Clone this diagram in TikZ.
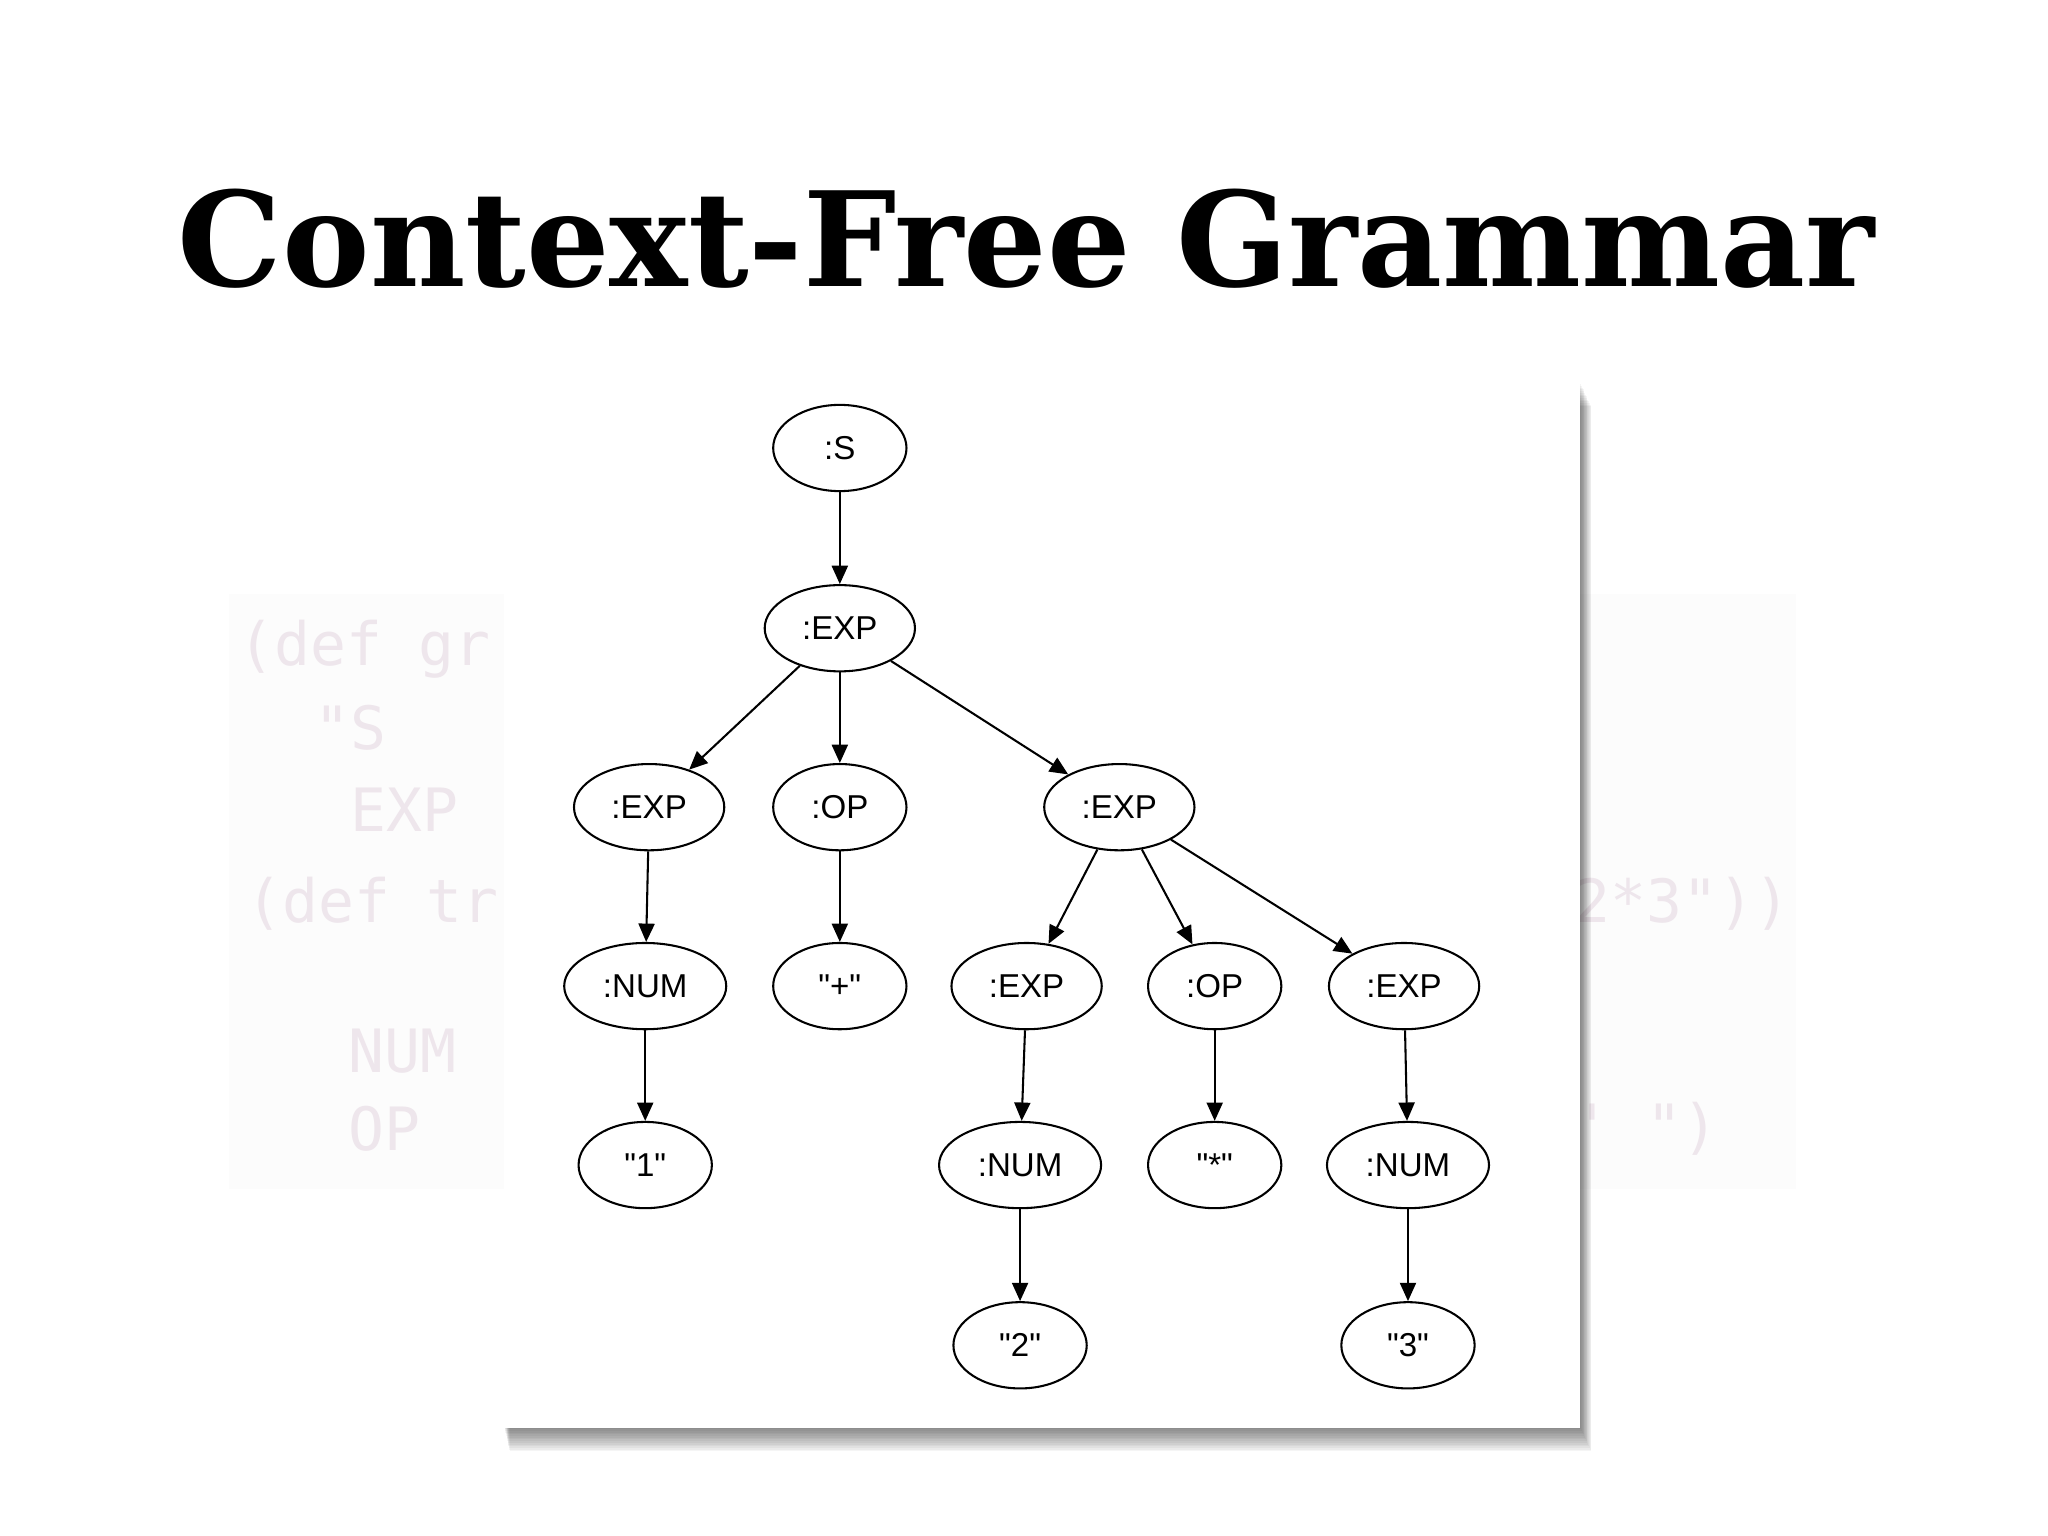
\documentclass[tikz,border=0pt]{standalone}
\usepackage{fontspec}
\setmainfont{Liberation Sans}
\newfontfamily\titlefont{DejaVu Serif}
\newfontfamily\codefont{DejaVu Sans Mono}
\usetikzlibrary{shapes.geometric,arrows.meta}
\definecolor{codec}{RGB}{238,230,236}
\newcommand{\qq}[1]{\textquotedbl#1\textquotedbl}
\tikzset{
 nd/.style={ellipse,draw,line width=0.45pt,fill=white,inner sep=0pt,minimum height=0.66cm,font=\fontsize{7.2}{8}\selectfont},
 w/.style={nd,minimum width=1.02cm},
 m/.style={nd,minimum width=1.15cm},
 l/.style={nd,minimum width=1.24cm},
 ed/.style={-{Triangle[length=4pt,width=3.5pt]},line width=0.45pt},
 code/.style={text=codec,font=\codefont\fontsize{13}{14}\selectfont,anchor=west,inner sep=0pt}
}
\begin{document}
\begin{tikzpicture}[x=0.01cm,y=-0.01cm]
\useasboundingbox (0,0) rectangle (1568,1176);
\fill[white] (0,0) rectangle (1568,1176);
\node[font=\titlefont\bfseries\fontsize{28.6}{34}\selectfont] (title) at (786,183) {Context-Free Grammar};
% faded code panel
\fill[black!1] (175,455) rectangle (1375,910);
\node[code] (c1) at (182,497) {(def gr};
\node[code] (c2) at (240,557) {"S};
\node[code] (c3) at (268,620) {EXP};
\node[code] (c4) at (188,692) {(def tr};
\node[code] (c5) at (1205,692) {2*3"))};
\node[code] (c6) at (266,805) {NUM};
\node[code] (c7) at (266,864) {OP};
\node[code] (c8) at (1205,864) {' ")};
% panel with shadow
\foreach \i in {1,...,14} \fill[black,opacity=0.04] (386+0.3*\i,293+1.3*\i) rectangle (1210+0.6*\i,1093+1.3*\i);
\fill[white] (386,293) rectangle (1210,1093);
\node[w] (S) at (643,343) {:S};
\node[m] (e1) at (643,481) {:EXP};
\node[m] (e2) at (497,618) {:EXP};
\node[w] (o1) at (643,618) {:OP};
\node[m] (e3) at (857,618) {:EXP};
\node[l] (n1) at (494,755) {:NUM};
\node[w] (pl) at (643,755) {\qq{+}};
\node[m] (e4) at (786,755) {:EXP};
\node[w] (o2) at (930,755) {:OP};
\node[m] (e5) at (1075,755) {:EXP};
\node[w] (one) at (494,892) {\qq{1}};
\node[l] (n2) at (781,892) {:NUM};
\node[w] (st) at (930,892) {\qq{*}};
\node[l] (n3) at (1078,892) {:NUM};
\node[w] (two) at (781,1030) {\qq{2}};
\node[w] (thr) at (1078,1030) {\qq{3}};
\foreach \a/\b in {S/e1,e1/e2,e1/o1,e1/e3,e2/n1,o1/pl,e3/e4,e3/o2,e3/e5,n1/one,e4/n2,o2/st,e5/n3,n2/two,n3/thr}
  \draw[ed] (\a) -- (\b);
\end{tikzpicture}
\end{document}
